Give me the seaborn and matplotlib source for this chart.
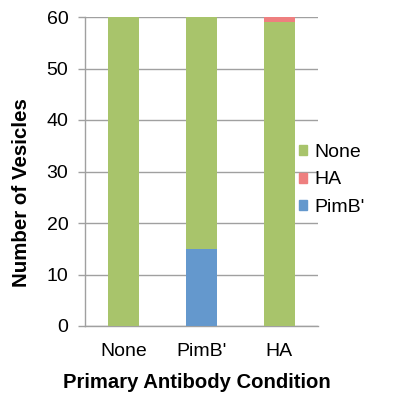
import matplotlib
matplotlib.use("Agg")
import matplotlib.pyplot as plt
import seaborn as sns
import numpy as np
from matplotlib.patches import Patch

conditions = ["None", "PimB'", "HA"]
pimb_vals = [0, 15, 0]
none_vals = [60, 45, 59]
ha_vals = [0, 0, 1]
yticks = [0, 10, 20, 30, 40, 50, 60]

c_green = "#A8C46B"
c_red = "#EE7F7F"
c_blue = "#6498CD"

sns.set_theme(style="white")
plt.rcParams['font.family'] = ['Liberation Sans', 'DejaVu Sans']

fig = plt.figure(figsize=(3.96, 3.99), dpi=100)
ax = fig.add_axes([85/396, 1-326/399, 233/396, 309/399])

pimb = np.array(pimb_vals)
none = np.array(none_vals)
ha = np.array(ha_vals)

kw = dict(width=0.4, ax=ax, saturation=1, zorder=3, linewidth=0)
sns.barplot(x=conditions, y=pimb, color=c_blue, **kw)
sns.barplot(x=conditions, y=none, bottom=pimb, color=c_green, **kw)
sns.barplot(x=conditions, y=ha, bottom=pimb + none, color=c_red, **kw)

ax.set_xlim(-0.5, 2.5)
ax.set_ylim(0, 60)
ax.set_yticks(yticks)
ax.yaxis.grid(True, color="#a0a0a0", linewidth=1)
ax.set_axisbelow(True)
for s in ["top", "right"]:
    ax.spines[s].set_visible(False)
for s in ["left", "bottom"]:
    ax.spines[s].set_color("#a0a0a0")
    ax.spines[s].set_linewidth(1)

ax.set_xticks([0, 1, 2])
ax.set_xticklabels(conditions)
ax.set_xticks([-0.5, 0.5, 1.5, 2.5], minor=True)
ax.tick_params(axis="x", which="major", length=0, pad=12, labelsize=14, labelcolor="black")
ax.tick_params(axis="x", which="minor", length=5, width=1, color="#a0a0a0", direction="out")
ax.tick_params(axis="y", length=5, width=1, color="#a0a0a0", direction="out", left=True,
               labelsize=14, pad=7, labelcolor="black")

ax.set_xlabel("Primary Antibody Condition", fontsize=14.6, fontweight="bold", color="black")
ax.set_ylabel("Number of Vesicles", fontsize=14.8, fontweight="bold", color="black")
ax.yaxis.set_label_coords(-(85 - 22) / 233, (326 - 193) / 309)
ax.xaxis.set_label_coords((197 - 85) / 233, -(383 - 326) / 309)
ax.xaxis.label.set_va("center")
ax.yaxis.label.set_va("center")

handles = [Patch(color=c_green, label="None"),
           Patch(color=c_red, label="HA"),
           Patch(color=c_blue, label="PimB'")]
fig.legend(handles=handles, loc="center left", bbox_to_anchor=(299/396, 1-180/399),
           frameon=False, fontsize=14, handlelength=0.42, handleheight=0.42,
           handletextpad=0.35, labelspacing=0.55, borderaxespad=0, borderpad=0,
           labelcolor="black")

fig.savefig("out.png", dpi=100)
